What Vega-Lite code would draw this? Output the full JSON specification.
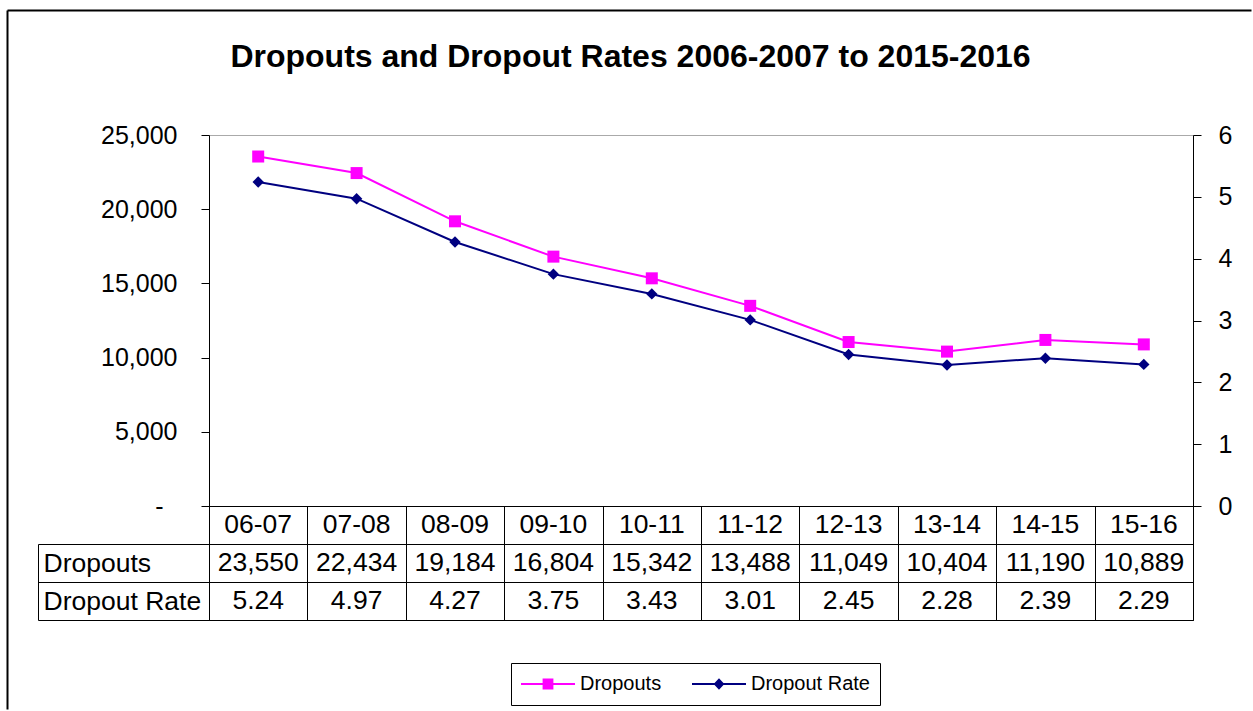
{
  "$schema": "https://vega.github.io/schema/vega-lite/v6.json",
  "padding": {"left": 6, "top": 9, "right": 0, "bottom": 0},
  "background": "white",
  "config": {
    "font": "Liberation Sans",
    "axis": {"labelFont": "Liberation Sans", "labelColor": "#000", "labelFontSize": 25, "tickColor": "#000", "domainColor": "#000"},
    "text": {"font": "Liberation Sans"}
  },
  "datasets": {
    "d": [
      {"cat": "06-07", "series": "Dropouts", "value": 23550},
      {"cat": "07-08", "series": "Dropouts", "value": 22434},
      {"cat": "08-09", "series": "Dropouts", "value": 19184},
      {"cat": "09-10", "series": "Dropouts", "value": 16804},
      {"cat": "10-11", "series": "Dropouts", "value": 15342},
      {"cat": "11-12", "series": "Dropouts", "value": 13488},
      {"cat": "12-13", "series": "Dropouts", "value": 11049},
      {"cat": "13-14", "series": "Dropouts", "value": 10404},
      {"cat": "14-15", "series": "Dropouts", "value": 11190},
      {"cat": "15-16", "series": "Dropouts", "value": 10889},
      {"cat": "06-07", "series": "Dropout Rate", "value": 5.24},
      {"cat": "07-08", "series": "Dropout Rate", "value": 4.97},
      {"cat": "08-09", "series": "Dropout Rate", "value": 4.27},
      {"cat": "09-10", "series": "Dropout Rate", "value": 3.75},
      {"cat": "10-11", "series": "Dropout Rate", "value": 3.43},
      {"cat": "11-12", "series": "Dropout Rate", "value": 3.01},
      {"cat": "12-13", "series": "Dropout Rate", "value": 2.45},
      {"cat": "13-14", "series": "Dropout Rate", "value": 2.28},
      {"cat": "14-15", "series": "Dropout Rate", "value": 2.39},
      {"cat": "15-16", "series": "Dropout Rate", "value": 2.29}
    ]
  },
  "data": {"name": "d"},
  "spacing": 0,
  "bounds": "flush",
  "vconcat": [
    {
      "width": 984,
      "height": 371,
      "view": {"stroke": "#aaa"},
      "layer": [
        {
          "encoding": {
            "x": {"field": "cat", "type": "nominal", "sort": null, "scale": {"paddingInner": 0, "paddingOuter": 0},
              "axis": {"orient": "top", "title": "Dropouts and Dropout Rates 2006-2007 to 2015-2016", "labels": false, "ticks": false, "domain": false, "grid": false,
                "titleFont": "Liberation Sans", "titleFontSize": 32, "titleFontWeight": "bold", "titleColor": "#000", "titlePadding": 69, "titleBaseline": "alphabetic", "titleX": 421, "titleAlign": "center"}}
          },
          "layer": [
            {
              "transform": [{"filter": "datum.series == 'Dropouts'"}],
              "encoding": {
                "y": {"field": "value", "type": "quantitative", "scale": {"domain": [0, 25000], "nice": false},
                  "axis": {"orient": "left", "title": null, "values": [0, 5000, 10000, 15000, 20000, 25000], "grid": false, "tickSize": 8,
                    "labelPadding": {"condition": {"test": "datum.value == 0", "value": 38}, "value": 24},
                    "labelExpr": "datum.value == 0 ? '-' : format(datum.value, ',')"}},
                "color": {"field": "series", "type": "nominal", "scale": {"domain": ["Dropouts", "Dropout Rate"], "range": ["#FF00FF", "#000080"]},
                  "legend": {"orient": "none", "legendX": 302, "legendY": 528, "direction": "horizontal", "title": null, "strokeColor": "#000", "padding": 10, "fillColor": "#fff",
                    "labelFont": "Liberation Sans", "labelFontSize": 20, "labelColor": "#000", "labelOffset": 5, "columnPadding": 30, "symbolSize": 2916, "clipHeight": 22, "symbolStrokeWidth": 0}}
              },
              "layer": [
                {"mark": {"type": "line", "strokeWidth": 2}},
                {"mark": {"type": "point", "filled": true, "opacity": 1, "size": 144, "shape": "square"}},
                {"mark": {"type": "point", "filled": true, "opacity": 1, "size": 0},
                  "encoding": {
                    "shape": {"field": "series", "type": "nominal", "scale": {"domain": ["Dropouts", "Dropout Rate"], "range": ["M-1,-0.04H1V0.04H-1Z M-0.2,-0.2H0.2V0.2H-0.2Z", "M-1,-0.04H1V0.04H-1Z M0,-0.21L0.2,0L0,0.21L-0.2,0Z"]},
                      "legend": {"orient": "none", "legendX": 302, "legendY": 528, "direction": "horizontal", "title": null, "strokeColor": "#000", "padding": 10, "fillColor": "#fff",
                        "labelFont": "Liberation Sans", "labelFontSize": 20, "labelColor": "#000", "labelOffset": 5, "columnPadding": 30, "symbolSize": 2916, "clipHeight": 22, "symbolStrokeWidth": 0}}
                  }}
              ]
            },
            {
              "transform": [{"filter": "datum.series == 'Dropout Rate'"}],
              "encoding": {
                "y": {"field": "value", "type": "quantitative", "scale": {"domain": [0, 6], "nice": false},
                  "axis": {"orient": "right", "title": null, "values": [0, 1, 2, 3, 4, 5, 6], "grid": false, "tickSize": 8, "labelPadding": 17}},
                "color": {"field": "series", "type": "nominal"}
              },
              "layer": [
                {"mark": {"type": "line", "strokeWidth": 2}},
                {"mark": {"type": "point", "filled": true, "opacity": 1, "size": 130, "shape": "diamond"}}
              ]
            }
          ],
          "resolve": {"scale": {"y": "independent"}}
        },
        {
          "mark": {"type": "point", "opacity": 0},
          "encoding": {
            "x": {"datum": 0.5, "type": "quantitative", "scale": {"domain": [0, 1], "range": [-202, 1042], "nice": false, "zero": false},
              "axis": {"orient": "top", "offset": 125, "ticks": false, "labels": false, "grid": false, "title": null, "domain": true, "domainColor": "#000", "domainWidth": 2}},
            "y": {"datum": 0.5, "type": "quantitative", "scale": {"domain": [0, 1], "range": [574, -125], "nice": false, "zero": false},
              "axis": {"orient": "left", "offset": 202, "ticks": false, "labels": false, "grid": false, "title": null, "domain": true, "domainColor": "#000", "domainWidth": 2}}
          }
        }
      ],
      "resolve": {"scale": {"x": "independent", "y": "independent"}}
    },
    {
      "width": 984,
      "height": 114,
      "view": {"stroke": "#000"},
      "layer": [
        {
          "encoding": {
            "x": {"field": "cat", "type": "nominal", "sort": null, "scale": {"paddingInner": 0, "paddingOuter": 0},
              "axis": {"orient": "bottom", "tickBand": "extent", "grid": true, "gridColor": "#000", "gridOpacity": 1, "gridWidth": 1, "labels": false, "ticks": false, "domain": false, "title": null}}
          },
          "layer": [
            {
              "transform": [{"filter": "datum.series == 'Dropouts'"}],
              "mark": {"type": "text", "fontSize": 26.5, "color": "#000"},
              "encoding": {"y": {"datum": " ", "type": "nominal"}, "text": {"field": "cat"}}
            },
            {
              "mark": {"type": "text", "fontSize": 26.5, "color": "#000"},
              "encoding": {
                "y": {"field": "series", "type": "nominal", "scale": {"domain": [" ", "Dropouts", "Dropout Rate"], "paddingInner": 0, "paddingOuter": 0},
                  "axis": {"orient": "left", "title": null, "tickBand": "extent", "tickSize": 171, "tickOpacity": 0,
                    "labelAlign": "left", "labelPadding": -5, "labelBaseline": "middle", "labelFontSize": 26.5, "labelColor": "#000", "labelLimit": 300,
                    "domain": true, "domainColor": "#000", "grid": true, "gridColor": "#000", "gridOpacity": 1}},
                "text": {"field": "value", "format": ","}
              }
            }
          ]
        },
        {
          "mark": {"type": "point", "opacity": 0},
          "encoding": {
            "y": {"datum": "a", "type": "nominal", "scale": {"domain": ["a", "b"], "range": [38, 114], "paddingInner": 0, "paddingOuter": 0},
              "axis": {"orient": "left", "offset": 171, "title": null, "labels": false, "ticks": true, "tickBand": "extent", "tickSize": -171, "tickColor": "#000", "tickWidth": 1, "grid": false, "domain": true, "domainColor": "#000"}}
          }
        }
      ],
      "resolve": {"scale": {"y": "independent"}}
    }
  ]
}
